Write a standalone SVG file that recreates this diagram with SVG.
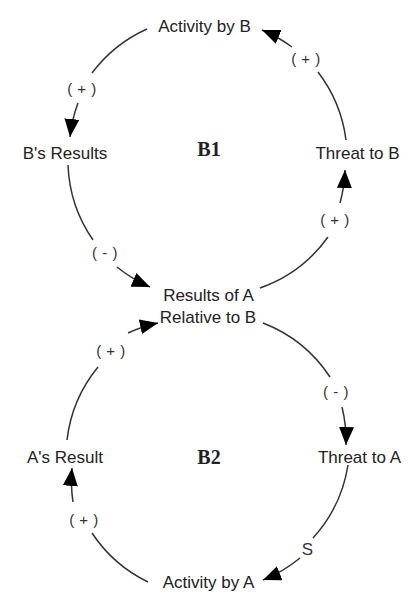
<svg xmlns="http://www.w3.org/2000/svg" width="413" height="594" viewBox="0 0 413 594">
  <style>
    .node { font-family: "Liberation Sans", Arial, sans-serif; font-size: 17px; fill: #222; text-anchor: middle; }
    .loop { font-family: "Liberation Serif", "Times New Roman", serif; font-size: 20px; font-weight: bold; fill: #222; text-anchor: middle; }
    .pol { font-family: "Liberation Sans", Arial, sans-serif; font-size: 15px; fill: #333; text-anchor: middle; letter-spacing: 0.5px; }
    .s { font-family: "Liberation Sans", Arial, sans-serif; font-size: 17px; fill: #333; text-anchor: middle; }
    .link { fill: none; stroke: #333; stroke-width: 1.5; }
    .head { marker-end: url(#arrow); }
  </style>
  <defs>
    <marker id="arrow" markerUnits="userSpaceOnUse" markerWidth="18" markerHeight="15" viewBox="0 0 18 15" refX="18" refY="7.5" orient="auto">
      <path d="M0,0 L18,7.5 L0,15 Z" fill="#000"/>
    </marker>
  </defs>

  <g id="connectors">
    <g id="c1">
      <path class="link" d="M147,29 A141,141 0 0 0 92,73"/>
      <path class="link head" d="M78,103 A141,141 0 0 0 70,137"/>
      <text class="pol" x="82" y="94" xml:space="preserve">( + )</text>
    </g>
    <g id="c2">
      <path class="link" d="M68,165 A141,141 0 0 0 93,240"/>
      <path class="link head" d="M117,267 A141,141 0 0 0 150,287"/>
      <text class="pol" x="105" y="258" xml:space="preserve">( - )</text>
    </g>
    <g id="c3">
      <path class="link" d="M260,288 A141,141 0 0 0 328,237"/>
      <path class="link head" d="M340,203 A141,141 0 0 0 345,170"/>
      <text class="pol" x="335" y="224.5" xml:space="preserve">( + )</text>
    </g>
    <g id="c4">
      <path class="link" d="M346,140 A141,141 0 0 0 318,72"/>
      <path class="link head" d="M292,47 A141,141 0 0 0 262,30"/>
      <text class="pol" x="306" y="63.5" xml:space="preserve">( + )</text>
    </g>
    <g id="c5">
      <path class="link" d="M263,323 A141,141 0 0 1 330,377"/>
      <path class="link head" d="M342,407 A141,141 0 0 1 346,445"/>
      <text class="pol" x="336" y="396.5" xml:space="preserve">( - )</text>
    </g>
    <g id="c6">
      <path class="link" d="M348,465 A141,141 0 0 1 313,538"/>
      <path class="link head" d="M300,558 A141,141 0 0 1 263,580"/>
      <text class="s" x="307.5" y="555">S</text>
    </g>
    <g id="c7">
      <path class="link" d="M148,582 A141,141 0 0 1 92,533"/>
      <path class="link head" d="M73,502 A141,141 0 0 1 72,468"/>
      <text class="pol" x="84" y="524.5" xml:space="preserve">( + )</text>
    </g>
    <g id="c8">
      <path class="link" d="M67,440 A141,141 0 0 1 98,367"/>
      <path class="link head" d="M128,333 A141,141 0 0 1 158,323"/>
      <text class="pol" x="111" y="355.5" xml:space="preserve">( + )</text>
    </g>
  </g>

  <g id="activity-by-b"><text class="node" x="204.5" y="32">Activity by B</text></g>
  <g id="bs-results"><text class="node" x="65" y="159">B's Results</text></g>
  <g id="threat-to-b"><text class="node" x="357.5" y="159">Threat to B</text></g>
  <g id="results-of-a"><text class="node" x="208.5" y="301">Results of A</text><text class="node" x="208" y="323">Relative to B</text></g>
  <g id="as-result"><text class="node" x="65" y="463">A's Result</text></g>
  <g id="threat-to-a"><text class="node" x="359.5" y="463">Threat to A</text></g>
  <g id="activity-by-a"><text class="node" x="208.5" y="588">Activity by A</text></g>
  <g id="b1"><text class="loop" x="209" y="156">B1</text></g>
  <g id="b2"><text class="loop" x="209" y="464">B2</text></g>
</svg>
